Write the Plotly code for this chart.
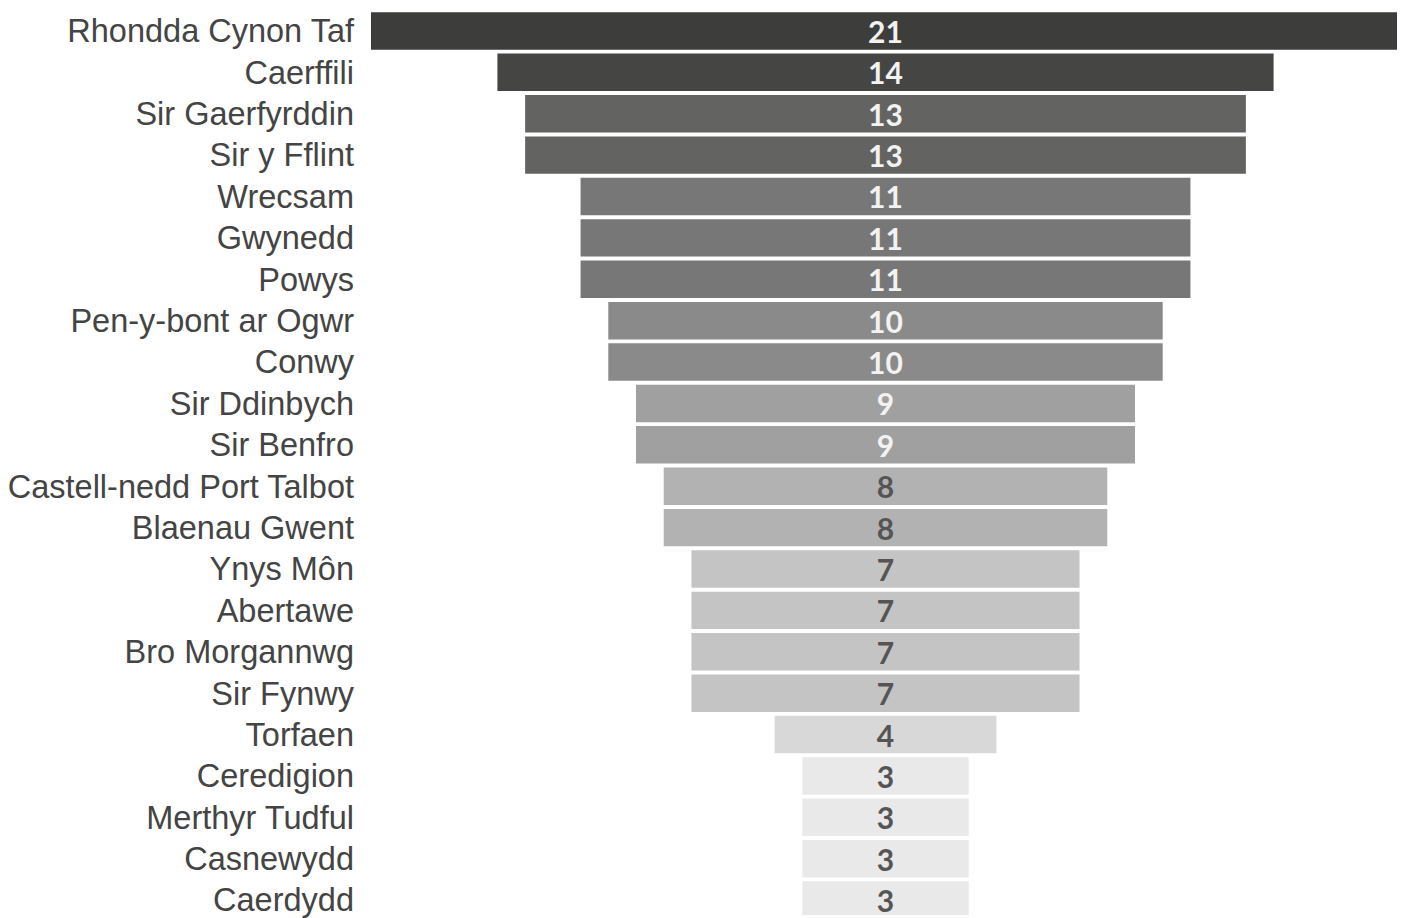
import plotly.graph_objects as go

regions = ["Rhondda Cynon Taf", "Caerffili", "Sir Gaerfyrddin", "Sir y Fflint", "Wrecsam",
           "Gwynedd", "Powys", "Pen-y-bont ar Ogwr", "Conwy", "Sir Ddinbych", "Sir Benfro",
           "Castell-nedd Port Talbot", "Blaenau Gwent", "Ynys Môn", "Abertawe", "Bro Morgannwg",
           "Sir Fynwy", "Torfaen", "Ceredigion", "Merthyr Tudful", "Casnewydd", "Caerdydd"]
values = [21, 14, 13, 13, 11, 11, 11, 10, 10, 9, 9, 8, 8, 7, 7, 7, 7, 4, 3, 3, 3, 3]

color_by_value = {21: "#3d3d3b", 14: "#454544", 13: "#636362", 11: "#777777", 10: "#8a8a8a",
                  9: "#a0a0a0", 8: "#b2b2b2", 7: "#c4c4c4", 4: "#d8d8d8", 3: "#e9e9e9"}
bar_colors = [color_by_value[v] for v in values]
text_colors = ["#f2f2f2" if v >= 9 else "#555555" for v in values]

fig = go.Figure(go.Funnel(
    y=regions,
    x=values,
    textinfo="value",
    textposition="inside",
    insidetextanchor="middle",
    constraintext="none",
    textfont=dict(family="Lato", size=30, color=text_colors, weight=700),
    marker=dict(color=bar_colors, line=dict(width=0)),
    connector=dict(visible=False),
    hoverinfo="y+x",
))

fig.update_layout(
    width=1397, height=910,
    margin=dict(l=362, r=5, t=2, b=0),
    paper_bgcolor="white", plot_bgcolor="white",
    funnelgap=0.095,
    showlegend=False,
    xaxis=dict(visible=False, range=[-9.28, 9.28]),
    yaxis=dict(range=[21.36, -0.506], showgrid=False, zeroline=False, showline=False,
               ticks="", ticklabelstandoff=16,
               tickfont=dict(family="Liberation Sans, Arial", size=32.5, color="#444444")),
)

fig.write_html("out.html")
